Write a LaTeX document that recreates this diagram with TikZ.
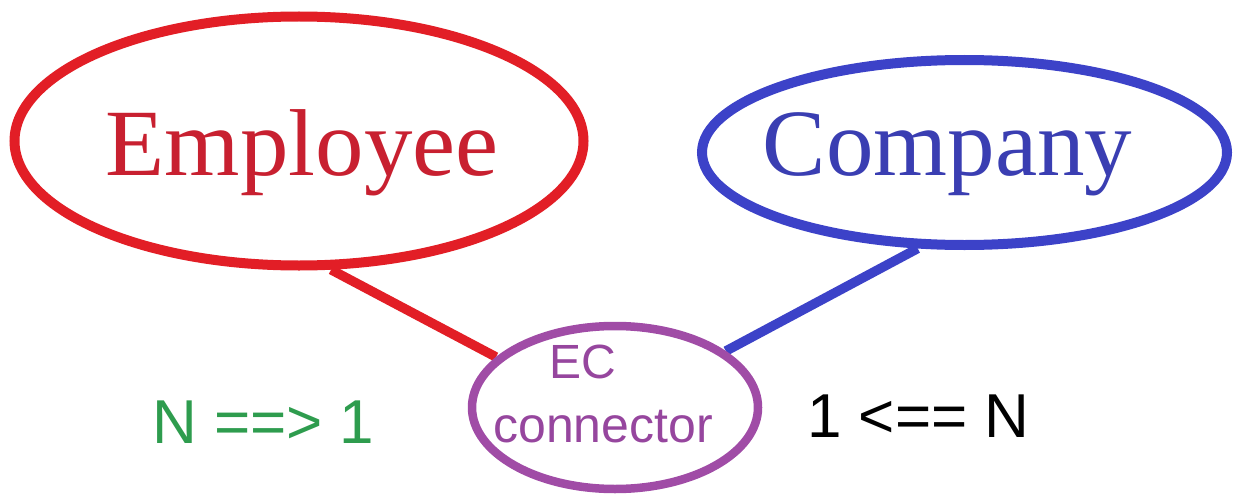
\documentclass[tikz,border=0pt]{standalone}
\usepackage{fontspec}
\setmainfont{Liberation Serif}
\newfontfamily\sansf{Liberation Sans}
\usetikzlibrary{shapes.geometric,backgrounds}
\definecolor{ered}{RGB}{226,30,38}
\definecolor{etext}{RGB}{200,32,48}
\definecolor{cblue}{RGB}{60,66,200}
\definecolor{ctext}{RGB}{58,62,178}
\definecolor{ecpurple}{RGB}{160,76,166}
\definecolor{ectext}{RGB}{150,70,158}
\definecolor{ngreen}{RGB}{46,156,78}
\tikzset{
  entity/.style={ellipse, draw, line width=10pt, inner sep=0pt},
  relship/.style={ellipse, draw=ecpurple, line width=8.5pt, inner sep=0pt,
    minimum width=286pt, minimum height=163pt},
  bigtext/.style={inner sep=0pt, anchor=base, font=\fontsize{95}{95}\selectfont},
  smalltext/.style={inner sep=0pt, anchor=base west, font=\sansf\fontsize{62}{62}\selectfont},
  ectxt/.style={inner sep=0pt, anchor=base west, text=ectext},
  link/.style={line width=9.5pt}
}
\begin{document}
\begin{tikzpicture}[x=1pt,y=-1pt]
\useasboundingbox (0,0) rectangle (1237,495);
\node[entity, draw=ered, minimum width=569pt, minimum height=249pt] (emp) at (299,141) {};
\node[entity, draw=cblue, minimum width=525pt, minimum height=185pt] (comp) at (964.5,152.5) {};
\node[relship] (ec) at (615,407.5) {};
\node[bigtext, text=etext] (emptxt) at (302,175) {\scalebox{1.02}[1]{Employee}};
\node[bigtext, text=ctext] (comptxt) at (947.5,175) {Company};
\node[ectxt, font=\sansf\fontsize{48}{48}\selectfont] (ectop) at (549,378) {EC};
\node[ectxt, font=\sansf\fontsize{50}{50}\selectfont] (ecbot) at (493,442) {connector};
\node[smalltext, text=ngreen] (nleft) at (152,443) {N ==> 1};
\node[smalltext, text=black] (nright) at (807,437) {1 <== N};
\begin{scope}[on background layer]
\draw[link, ered] (emp.-76) -- (ec.157);
\draw[link, cblue] (comp.-116) -- (ec.27.6);
\end{scope}
\end{tikzpicture}
\end{document}
